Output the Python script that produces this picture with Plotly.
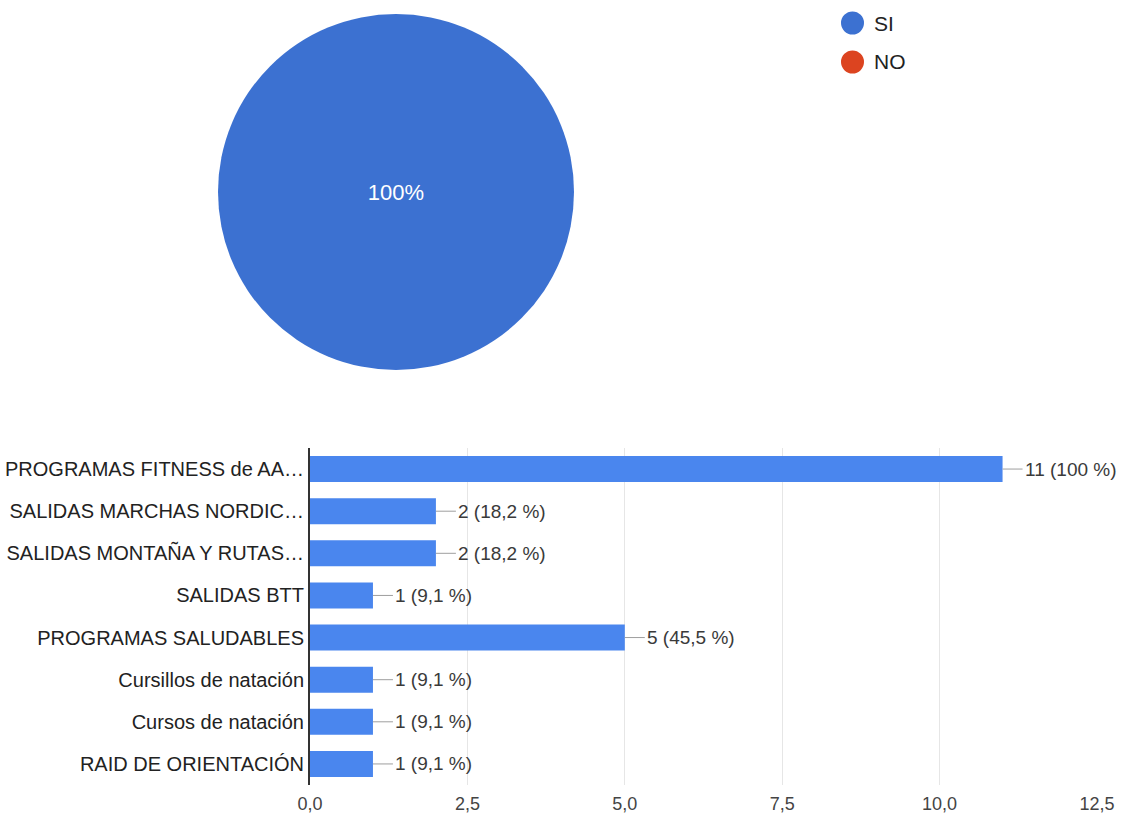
import plotly.graph_objects as go

pie_labels = ["SI", "NO"]
pie_values = [11, 0]
pie_colors = ["#3C71D1", "#DC4420"]

categories = ["PROGRAMAS FITNESS de AA…", "SALIDAS MARCHAS NORDIC…", "SALIDAS MONTAÑA Y RUTAS…",
              "SALIDAS BTT", "PROGRAMAS SALUDABLES", "Cursillos de natación",
              "Cursos de natación", "RAID DE ORIENTACIÓN"]
counts = [11, 2, 2, 1, 5, 1, 1, 1]
total = 11
x_ticks = [0, 2.5, 5, 7.5, 10, 12.5]

W, H = 1122, 819
FONT = "Liberation Sans, Arial, sans-serif"

fig = go.Figure()

fig.add_trace(go.Pie(
    labels=pie_labels, values=pie_values, sort=False, direction="clockwise",
    marker=dict(colors=pie_colors, line=dict(width=0)),
    textinfo="percent", texttemplate="%{percent:.0%}", textposition="inside",
    insidetextfont=dict(color="white", size=22, family=FONT),
    domain=dict(x=[200 / W, 592 / W], y=[1 - 370 / H, 1 - 14 / H]),
    showlegend=False, hoverinfo="label+percent",
))

fig.add_trace(go.Bar(
    y=categories, x=counts, orientation="h",
    marker=dict(color="#4A86EE", line=dict(width=0)),
    width=0.62, xaxis="x", yaxis="y", showlegend=False,
))

def fmt(v):
    p = v / total * 100
    s = f"{p:.0f}" if abs(p - round(p)) < 1e-9 else f"{p:.1f}".replace(".", ",")
    return f"{v} ({s} %)"

annotations = []
for c, v in zip(categories, counts):
    annotations.append(dict(
        x=v, y=c, xref="x", yref="y", text=fmt(v), showarrow=True,
        arrowhead=0, arrowwidth=1, arrowcolor="#9E9E9E", ax=20, ay=0,
        xanchor="left", standoff=0, startstandoff=0,
        font=dict(size=19, color="#3A3A3A", family=FONT),
    ))

# legend
shapes = []
for i, (lab, col) in enumerate(zip(pie_labels, pie_colors)):
    yc = 23 + i * 39
    shapes.append(dict(type="circle", xref="paper", yref="paper",
                       x0=841 / W, x1=864 / W, y0=1 - (yc + 11.5) / H, y1=1 - (yc - 11.5) / H,
                       fillcolor=col, line=dict(width=0)))
    annotations.append(dict(x=872 / W, y=1 - yc / H, xref="paper", yref="paper",
                            text=lab, showarrow=False, xanchor="left", yanchor="middle",
                            font=dict(size=21, color="#222222", family=FONT)))

fig.update_layout(
    width=W, height=H, margin=dict(l=0, r=0, t=0, b=0, autoexpand=False),
    paper_bgcolor="white", plot_bgcolor="white", separators=",.",
    font=dict(family=FONT, color="#222222"),
    xaxis=dict(domain=[310 / W, 1097 / W], range=[0, 12.5], tickvals=x_ticks,
               tickformat=".1f", showgrid=True, gridcolor="#E6E6E6", gridwidth=1,
               zeroline=False, showline=False, ticks="", ticklen=0, automargin=False,
               ticklabelstandoff=6,
               tickfont=dict(size=18, color="#444444"), anchor="y", fixedrange=True),
    yaxis=dict(domain=[1 - 785 / H, 1 - 448 / H], categoryorder="array",
               categoryarray=categories[::-1], autorange=True, showgrid=False,
               showline=True, linecolor="#333333", linewidth=2, ticks="",
               ticklabelstandoff=0, automargin=False,
               tickfont=dict(size=20, color="#222222"), anchor="x", fixedrange=True),
    bargap=0.38, annotations=annotations, shapes=shapes,
)

post = ("document.body.style.margin='0';document.body.style.overflow='hidden';"
        "Plotly.relayout('{plot_id}', {width: 1122, height: 819});")
fig.write_html("out.html", post_script=post, config={"displayModeBar": False})
